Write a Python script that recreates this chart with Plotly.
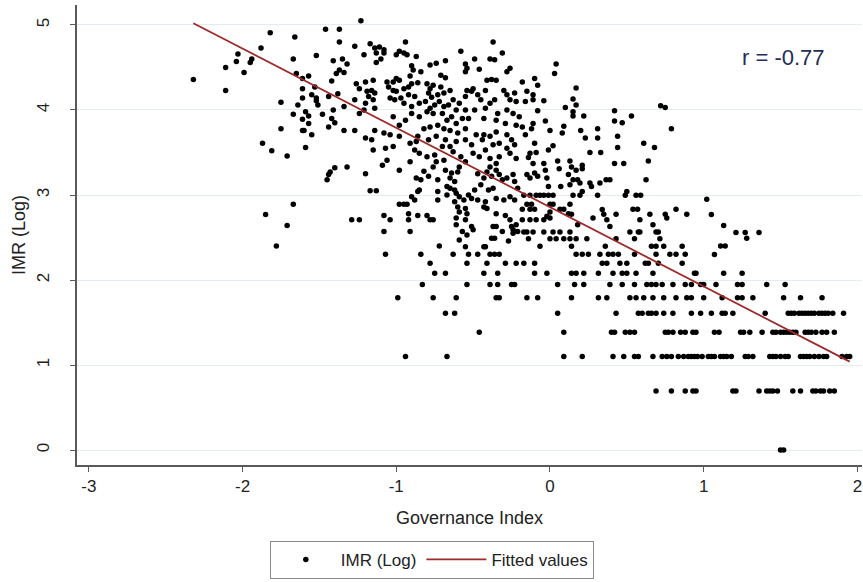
import plotly.graph_objects as go

# ---- Governance index vs. log infant mortality rate ----

# Upper-left part of the cloud (governance below about -1.3)
gov_a = [-2.32, -2.11, -2.11, -2.03, -2.04, -1.99, -1.95, -1.94, -1.88, -1.82,
         -1.66, -1.67, -1.65, -1.61, -1.57, -1.61, -1.53, -1.75, -1.64, -1.61,
         -1.55, -1.52, -1.52, -1.51, -1.44, -1.38, -1.34, -1.46, -1.37, -1.37,
         -1.52, -1.41, -1.35, -1.32, -1.39, -1.37, -1.34, -1.42, -1.67, -1.59,
         -1.57, -1.48, -1.41, -1.61, -1.57, -1.42, -1.40, -1.75, -1.61, -1.60,
         -1.44, -1.34, -1.55, -1.87, -1.81, -1.71, -1.59]
imr_a = [4.36, 4.50, 4.23, 4.66, 4.57, 4.44, 4.56, 4.60, 4.73, 4.91,
         4.86, 4.60, 4.43, 4.37, 4.40, 4.25, 4.27, 4.09, 4.06, 4.14,
         4.18, 4.14, 4.11, 4.06, 4.16, 4.19, 4.04, 4.95, 4.95, 4.80,
         4.64, 4.58, 4.60, 4.54, 4.43, 4.47, 4.44, 4.34, 3.95, 3.98,
         3.93, 3.95, 4.00, 3.89, 3.84, 3.90, 3.85, 3.78, 3.76, 3.76,
         3.80, 3.76, 3.71, 3.61, 3.52, 3.46, 3.56]

# Dense core, governance -1.3 to -0.2, IMR above ~3.35
gov_b = [-1.23, -1.27, -1.17, -1.21, -1.14, -1.11, -1.08, -1.13, -1.08, -1.10,
         -1.13, -0.94, -0.98, -1.00, -0.95, -0.93, -0.87, -0.90, -0.89, -0.84,
         -0.91, -0.78, -0.74, -0.68, -0.71, -0.68, -0.58, -0.49, -0.55, -0.54,
         -0.55, -0.46, -0.37, -0.31, -0.36, -0.39, -0.26, -0.28, -0.41, -0.38,
         -0.35, -0.42, -1.26, -1.20, -1.15, -1.24, -1.19, -1.16, -1.14, -1.18,
         -1.15, -1.20, -1.14, -1.27, -1.06, -1.02, -1.00, -0.98, -1.05, -1.02,
         -1.00, -0.95, -0.92, -0.90, -0.86, -1.04, -1.01, -0.97, -0.95, -0.92,
         -0.88, -0.85, -0.90, -0.80, -0.78, -0.76, -0.71, -0.79, -0.77, -0.73,
         -0.81, -0.78, -0.75, -0.72, -0.69, -0.65, -0.69, -0.66, -0.63, -0.59,
         -0.61, -0.55, -0.54, -0.51, -0.50, -0.55, -0.47, -0.45, -0.42, -0.39,
         -0.36, -0.30, -0.28, -0.23, -0.26, -0.34, -0.28, -0.24, -0.22, -0.49,
         -0.53, -0.43, -0.35, -0.29, -1.24, -1.21, -1.02, -0.98, -0.94, -0.90,
         -0.85, -0.80, -0.76, -0.70, -0.67, -0.64, -0.61, -0.57, -0.82, -0.78,
         -0.73, -0.69, -0.65, -0.60, -0.55, -0.48, -0.43, -0.39, -0.35, -0.28,
         -0.25, -0.22, -1.27, -1.20, -1.14, -1.16, -1.08, -1.04, -0.98, -0.91,
         -0.87, -0.86, -0.79, -0.74, -0.68, -0.65, -0.61, -0.55, -0.51, -0.44,
         -0.42, -0.37, -0.33, -0.28, -0.23, -1.15, -1.07, -1.02, -0.88, -0.85,
         -0.80, -0.75, -0.70, -0.63, -0.58, -0.50, -0.46, -0.39, -0.33, -0.26,
         -0.22, -1.06, -0.91, -0.74, -0.69, -0.55, -0.35]
imr_b = [5.05, 4.75, 4.78, 4.65, 4.73, 4.74, 4.71, 4.67, 4.67, 4.60,
         4.56, 4.80, 4.69, 4.65, 4.67, 4.65, 4.63, 4.52, 4.47, 4.45,
         4.40, 4.53, 4.55, 4.58, 4.41, 4.38, 4.69, 4.60, 4.54, 4.49,
         4.45, 4.48, 4.80, 4.67, 4.59, 4.60, 4.49, 4.45, 4.35, 4.36,
         4.35, 4.23, 4.31, 4.33, 4.35, 4.25, 4.22, 4.23, 4.20, 4.16,
         4.12, 4.08, 4.02, 4.12, 4.33, 4.33, 4.37, 4.35, 4.27, 4.23,
         4.22, 4.25, 4.27, 4.31, 4.32, 4.14, 4.12, 4.14, 4.08, 4.18,
         4.16, 4.08, 4.04, 4.31, 4.25, 4.29, 4.27, 4.20, 4.15, 4.18,
         4.10, 4.02, 4.06, 4.10, 4.20, 4.23, 4.04, 4.06, 4.12, 4.08,
         4.00, 4.00, 4.23, 4.22, 4.25, 4.16, 4.18, 4.12, 4.02, 4.08,
         4.12, 4.23, 4.18, 4.20, 4.12, 3.96, 4.00, 3.96, 4.10, 4.00,
         3.90, 3.90, 3.88, 3.84, 3.96, 4.00, 3.92, 3.82, 3.88, 3.96,
         3.92, 3.98, 3.96, 3.96, 3.88, 3.92, 3.84, 3.90, 3.78, 3.80,
         3.82, 3.78, 3.76, 3.73, 3.78, 3.71, 3.71, 3.69, 3.74, 3.71,
         3.65, 3.82, 3.76, 3.67, 3.76, 3.65, 3.73, 3.71, 3.69, 3.61,
         3.63, 3.69, 3.65, 3.69, 3.65, 3.57, 3.63, 3.65, 3.59, 3.65,
         3.53, 3.59, 3.61, 3.55, 3.59, 3.53, 3.55, 3.57, 3.53, 3.49,
         3.45, 3.47, 3.57, 3.51, 3.45, 3.49, 3.45, 3.43, 3.45, 3.49,
         3.43, 3.41, 3.39, 3.39, 3.41, 3.39, 3.37]

# Governance -0.2 to 0.9, IMR above ~3.35
gov_c = [0.04, 0.03, -0.18, -0.10, -0.08, -0.15, -0.11, -0.16, -0.11, -0.04,
         -0.08, -0.20, 0.17, 0.15, 0.17, 0.10, 0.15, 0.15, 0.22, 0.42,
         0.53, 0.42, 0.47, 0.72, 0.75, 0.79, -0.03, -0.11, -0.12, -0.18,
         0.00, 0.09, 0.08, -0.16, 0.20, 0.23, 0.31, 0.31, 0.44, 0.44,
         0.61, 0.68, -0.10, 0.02, -0.01, -0.13, -0.09, -0.14, 0.26, 0.33,
         0.05, 0.13, -0.11, -0.04, 0.21, 0.42, 0.48, 0.64]
imr_c = [4.54, 4.43, 4.33, 4.37, 4.29, 4.22, 4.18, 4.10, 4.12, 4.11,
         3.99, 3.92, 4.26, 4.13, 4.06, 4.03, 3.98, 3.93, 3.93, 3.99,
         3.93, 3.87, 3.85, 4.05, 4.03, 3.78, 3.87, 3.84, 3.78, 3.80,
         3.76, 3.81, 3.73, 3.71, 3.76, 3.67, 3.78, 3.67, 3.69, 3.56,
         3.61, 3.56, 3.61, 3.58, 3.53, 3.49, 3.50, 3.44, 3.50, 3.50,
         3.40, 3.40, 3.37, 3.37, 3.35, 3.37, 3.37, 3.40]

# Scattered left outliers below the main cloud
gov_d = [-1.85, -1.67, -1.71, -1.78, -1.45, -1.44, -1.43, -1.40, -1.32]
imr_d = [2.77, 2.89, 2.64, 2.40, 3.18, 3.24, 3.27, 3.32, 3.33]

# Middle band, governance -1.3 to -0.2, IMR 2.4 to 3.35
gov_e = [-1.20, -0.98, -1.09, -0.87, -0.84, -0.82, -0.79, -0.76, -0.73, -0.68,
         -0.65, -0.64, -0.62, -0.60, -0.59, -0.67, -0.65, -0.62, -0.61, -0.59,
         -0.56, -0.62, -0.60, -0.55, -0.59, -0.54, -0.53, -0.51, -0.49, -0.45,
         -0.43, -0.47, -0.41, -0.38, -0.39, -0.35, -0.33, -0.31, -0.28, -0.24,
         -0.23, -0.21, -0.40, -0.37, -0.47, -0.42, -0.43, -0.41, -0.35, -0.30,
         -0.26, -0.23, -1.17, -1.13, -0.90, -0.88, -0.86, -0.85, -0.73, -0.73,
         -0.67, -0.98, -0.95, -0.93, -1.08, -1.04, -0.92, -0.92, -0.86, -0.80,
         -0.78, -0.76, -1.29, -1.24, -0.61, -0.61, -0.55, -0.51, -0.50, -0.57,
         -0.54, -0.35, -0.29, -0.35, -0.37, -0.26, -0.25, -0.24, -0.22, -0.31,
         -0.24, -0.21, -1.08, -0.91, -0.59, -0.38, -0.36, -0.27, -0.55, -0.72,
         -0.43, -0.42]
imr_e = [3.25, 3.29, 3.35, 3.20, 3.18, 3.28, 3.22, 3.33, 3.18, 3.29,
         3.20, 3.26, 3.16, 3.27, 3.33, 3.10, 3.08, 3.06, 3.02, 2.98,
         2.94, 2.92, 2.86, 2.84, 2.80, 2.78, 3.00, 2.96, 3.06, 3.12,
         3.20, 3.25, 3.27, 3.22, 3.33, 3.29, 3.24, 3.18, 3.20, 3.24,
         3.16, 3.08, 3.06, 3.08, 2.94, 2.92, 2.86, 2.84, 2.96, 2.94,
         2.98, 2.94, 3.05, 3.05, 2.98, 2.94, 3.04, 3.06, 3.04, 2.94,
         3.00, 2.89, 2.89, 2.89, 2.76, 2.71, 2.78, 2.71, 2.76, 2.76,
         2.71, 2.71, 2.71, 2.71, 2.73, 2.65, 2.71, 2.63, 2.59, 2.57,
         2.53, 2.78, 2.76, 2.63, 2.63, 2.71, 2.63, 2.59, 2.65, 2.57,
         2.55, 2.57, 2.57, 2.57, 2.47, 2.49, 2.49, 2.46, 2.39, 2.40,
         2.39, 2.39]

# Middle band, governance -0.2 to 0.9
gov_f = [-0.15, -0.13, -0.10, -0.08, -0.02, -0.03, -0.01, 0.06, 0.07, 0.13,
         0.12, 0.14, 0.15, 0.18, 0.195, 0.17, 0.21, 0.26, 0.27, 0.325,
         0.365, 0.39, 0.625, 0.21, 0.50, 0.00, 0.12, 0.34, 0.18, 0.28,
         0.37, 0.39, 0.76, 0.585, -0.02, 0.00, 0.67]
imr_f = [3.24, 3.20, 3.26, 3.22, 3.20, 3.29, 3.10, 3.31, 3.10, 3.12,
         3.24, 3.33, 3.18, 3.18, 3.14, 3.29, 3.31, 3.14, 3.10, 3.14,
         3.18, 3.18, 3.18, 3.04, 3.04, 2.80, 2.78, 2.83, 2.65, 2.73,
         2.71, 2.63, 2.73, 2.71, 2.75, 2.73, 2.65]

# Right-hand scattered points (governance above 0.9)
gov_g = [1.02, 1.05, 1.13, 1.21, 1.27, 1.36, 1.28, 1.11, 1.14, 1.07]
imr_g = [2.95, 2.77, 2.64, 2.56, 2.56, 2.56, 2.49, 2.40, 2.40, 2.30]

# Low mortality countries fall on discrete log levels (log of whole rates)
lvl_2996 = [-0.17, -0.13, -0.09, -0.065, -0.04, -0.01, 0.02, 0.15, 0.195, 0.31,
            0.49, 0.56, 0.59]
lvl_2890 = [-0.15, -0.12, 0.00, 0.02, 0.13]
lvl_2833 = [-0.18, -0.13, -0.10, 0.065, 0.09, 0.54, 0.57, 0.82]
lvl_2773 = [0.14, 0.35, 0.43, 0.65, 0.75, 0.89]
lvl_2708 = [-0.18, -0.13, -0.09, -0.04]
lvl_2565 = [-0.17, -0.15, -0.11, -0.04, 0.02, 0.065, 0.13, 0.52, 0.575, 0.585,
            0.69, 0.705]
lvl_2485 = [-0.14, 0.00, 0.04, 0.09, 0.13, 0.17, 0.24, 0.43, 0.55, 0.715]
lvl_2398 = [-0.065, 0.14, 0.36, 0.66, 0.69, 0.74, 0.86]
lvl_2303 = [-1.07, -0.84, -0.63, -0.53, -0.47, -0.39, -0.36, -0.33,
            0.17, 0.21, 0.25, 0.325, 0.38, 0.41, 0.445, 0.55, 0.69, 0.78,
            0.82, 0.88]
lvl_2197 = [-0.78, -0.54, -0.41, -0.29, -0.22, -0.17, -0.10, 0.34, 0.37, 0.455,
            0.50, 0.62, 0.64, 0.705, 0.86]
lvl_2079 = [-0.75, -0.68, -0.43, -0.34, -0.10, -0.02, 0.14, 0.17, 0.22, 0.315,
            0.41, 0.47, 0.50, 0.56, 0.67, 0.94, 0.95, 1.13, 1.25]
lvl_1946 = [-0.83, -0.54, -0.39, -0.34, -0.25, -0.23, 0.05, 0.16, 0.22, 0.39,
            0.47, 0.55, 0.63, 0.66, 0.69, 0.73, 0.80, 0.88, 0.92, 0.98,
            1.00, 1.08, 1.22, 1.25, 1.41, 1.53]
lvl_1792 = [-0.99, -0.76, -0.61, -0.35, -0.33, -0.15, -0.08, 0.14, 0.315, 0.37,
            0.52, 0.56, 0.61, 0.67, 0.74, 0.82, 0.89, 0.92, 1.00, 1.12,
            1.22, 1.25, 1.32, 1.52, 1.63, 1.77]
lvl_1609 = [-0.68, -0.62, 0.05, 0.43, 0.575, 0.60, 0.64, 0.66, 0.69, 0.74,
            0.80, 0.92, 0.98, 1.05, 1.12, 1.14, 1.19, 1.40, 1.55, 1.57,
            1.59, 1.62, 1.64, 1.66, 1.68, 1.70, 1.72, 1.75, 1.77, 1.79,
            1.81, 1.84, 1.91]
lvl_1386 = [-0.46, 0.09, 0.40, 0.42, 0.49, 0.52, 0.55, 0.75, 0.77, 0.80,
            0.85, 0.88, 0.93, 0.95, 1.07, 1.10, 1.24, 1.26, 1.30, 1.38,
            1.45, 1.47, 1.50, 1.52, 1.54, 1.56, 1.58, 1.60, 1.66, 1.68,
            1.70, 1.73, 1.77, 1.80, 1.85]
lvl_1099 = [-0.94, -0.67, 0.09, 0.21, 0.41, 0.48, 0.55, 0.575, 0.67, 0.73,
            0.76, 0.79, 0.835, 0.87, 0.90, 0.92, 0.94, 0.96, 0.99, 1.03,
            1.05, 1.07, 1.11, 1.13, 1.15, 1.18, 1.27, 1.29, 1.32, 1.43,
            1.45, 1.47, 1.50, 1.53, 1.55, 1.63, 1.65, 1.67, 1.69, 1.72,
            1.75, 1.78, 1.80, 1.90, 1.93, 1.95]
lvl_0693 = [0.69, 0.79, 0.88, 0.93, 0.95, 1.19, 1.21, 1.36, 1.41, 1.43,
            1.45, 1.48, 1.58, 1.63, 1.71, 1.73, 1.76, 1.78, 1.82, 1.85]
lvl_0000 = [1.50, 1.52]

level_rows = [
    (2.996, lvl_2996), (2.890, lvl_2890), (2.833, lvl_2833), (2.773, lvl_2773),
    (2.708, lvl_2708), (2.565, lvl_2565), (2.485, lvl_2485), (2.398, lvl_2398),
    (2.303, lvl_2303), (2.197, lvl_2197), (2.079, lvl_2079), (1.946, lvl_1946),
    (1.792, lvl_1792), (1.609, lvl_1609), (1.386, lvl_1386), (1.099, lvl_1099),
    (0.693, lvl_0693), (0.000, lvl_0000),
]

# Linear fit line (Stata lfit), spanning the observed governance range
fit_gov = [-2.32, 1.95]
fit_imr = [5.02, 1.04]

# Axis ticks (Stata prints a plain hyphen for negatives)
x_ticks = [-3, -2, -1, 0, 1, 2]
x_tick_text = ["-3", "-2", "-1", "0", "1", "2"]
y_ticks = [0, 1, 2, 3, 4, 5]

corr_label = "r = -0.77"

gov = gov_a + gov_b + gov_c + gov_d + gov_e + gov_f + gov_g
imr = imr_a + imr_b + imr_c + imr_d + imr_e + imr_f + imr_g
for level, xs in level_rows:
    gov += xs
    imr += [level] * len(xs)

FONT = "Arial, Liberation Sans, Helvetica, sans-serif"
AXIS_GREY = "#5a5a5a"

fig = go.Figure()
fig.add_trace(go.Scatter(
    x=gov, y=imr, mode="markers", name="IMR (Log)",
    marker=dict(color="black", size=5.5, line=dict(width=0)),
))
fig.add_trace(go.Scatter(
    x=fit_gov, y=fit_imr, mode="lines", name="Fitted values",
    line=dict(color="#9e2a2b", width=1.8),
))

fig.add_annotation(
    x=1.52, y=4.62, xref="x", yref="y", text=corr_label, showarrow=False,
    font=dict(family=FONT, size=22, color="#1f2d5a"),
)

fig.update_layout(
    width=863, height=582,
    margin=dict(l=77, r=1, t=5, b=117),
    paper_bgcolor="white", plot_bgcolor="white",
    font=dict(family=FONT, color="#222222"),
    showlegend=True,
    legend=dict(
        orientation="h", x=0.452, xanchor="center", y=-0.165, yanchor="top",
        bordercolor="#8a8a8a", borderwidth=1, font=dict(size=17, color="#222"),
        itemwidth=60,
    ),
    xaxis=dict(
        range=[-3.077, 2.03], tickvals=x_ticks, ticktext=x_tick_text,
        ticks="outside", ticklen=5, tickcolor=AXIS_GREY, tickwidth=1.3,
        showline=True, linecolor=AXIS_GREY, linewidth=1.5,
        showgrid=False, zeroline=False,
        tickfont=dict(size=17, color="#222"),
        title=dict(text="Governance Index", font=dict(size=18, color="#222"),
                   standoff=16),
    ),
    yaxis=dict(
        range=[-0.176, 5.235], tickvals=y_ticks, tickangle=-90,
        ticks="outside", ticklen=5, tickcolor=AXIS_GREY, tickwidth=1.3,
        ticklabelstandoff=14,
        showline=True, linecolor=AXIS_GREY, linewidth=1.5,
        showgrid=True, gridcolor="#e3ecef", gridwidth=1.3, zeroline=False,
        tickfont=dict(size=17, color="#222"),
        title=dict(text="IMR (Log)", font=dict(size=18, color="#222"),
                   standoff=4),
    ),
)

fig.write_html("out.html")
